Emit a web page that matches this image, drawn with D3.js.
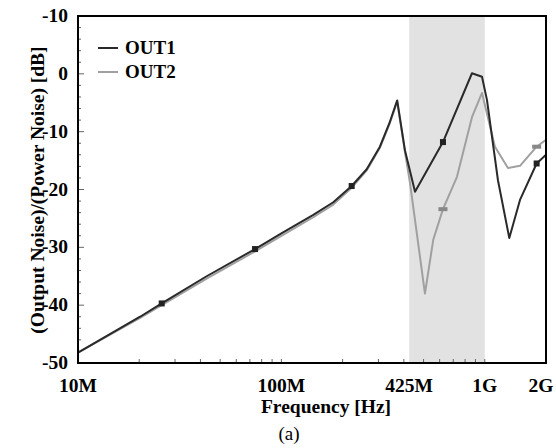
<!DOCTYPE html>
<html>
<head>
<meta charset="utf-8">
<script src="https://cdn.jsdelivr.net/npm/d3@7"></script>
<style>
  body { margin: 0; background: #fff; }
</style>
</head>
<body>
<svg id="chart" width="556" height="448" font-family="'Liberation Serif', 'Times New Roman', Times, 'DejaVu Serif', serif"></svg>
<script>
"use strict";

// frequencies in MHz, values in dB
const out1Freq = [10, 20.2, 25.8, 42.9, 74.2, 100, 143.5, 180, 221.6, 262.7, 305, 340, 371, 405, 454, 623, 865, 969, 1025, 1161, 1320, 1490, 1799, 2000];
const out1Db   = [-48.2, -42.0, -39.7, -35.0, -30.3, -27.6, -24.4, -22.2, -19.4, -16.5, -12.6, -8.5, -4.6, -13.2, -20.4, -11.8, 0.1, -0.5, -4.5, -18.4, -28.4, -21.8, -15.5, -14.0];
const out1Marks = [25.8, 74.2, 221.6, 623, 1799];

const out2Freq = [10, 20.2, 25.8, 42.9, 74.2, 100, 143.5, 180, 221.6, 262.7, 305, 340, 371, 405, 429, 508, 558, 623, 730, 865, 969, 1122, 1300, 1490, 1799, 2000];
const out2Db   = [-48.2, -42.2, -40.0, -35.4, -30.7, -28.0, -24.8, -22.6, -19.7, -16.7, -12.8, -8.7, -4.8, -13.5, -18.9, -38.0, -28.7, -23.4, -17.8, -7.5, -3.3, -12.6, -16.3, -15.9, -12.6, -11.4];
const out2Marks = [623, 1799];

const bandMHz = [425, 1000];

const xTickVals = [10, 100, 425, 1000, 2000];
const xTickLabels = ["10M", "100M", "425M", "1G", "2G"];
const yTickVals = [10, 0, -10, -20, -30, -40, -50];
const yTickLabels = ["-10", "0", "-10", "-20", "-30", "-40", "-50"];

const svg = d3.select("#chart");
const mLeft = 78, mRight = 546, mTop = 16, mBottom = 363;

const x = d3.scaleLog().domain([10, 2000]).range([mLeft, mRight]);
const y = d3.scaleLinear().domain([-50, 10]).range([mBottom, mTop]);

// shaded band
svg.append("rect")
   .attr("x", x(bandMHz[0]))
   .attr("y", mTop)
   .attr("width", x(bandMHz[1]) - x(bandMHz[0]))
   .attr("height", mBottom - mTop)
   .attr("fill", "#e2e2e2");

// minor ticks, inside the frame
const yMinor = d3.range(-50, 10.1, 2);
svg.append("g").selectAll("line")
   .data(yMinor)
   .enter().append("line")
   .attr("x1", mLeft)
   .attr("x2", d => mLeft + (d % 10 === 0 ? 6 : 3))
   .attr("y1", d => y(d)).attr("y2", d => y(d))
   .attr("stroke", "#666").attr("stroke-width", 1);

const xMinor = x.ticks().filter(d => d > 10 && d < 2000);
svg.append("g").selectAll("line")
   .data(xMinor)
   .enter().append("line")
   .attr("x1", d => x(d)).attr("x2", d => x(d))
   .attr("y1", mBottom).attr("y2", mBottom - 4)
   .attr("stroke", "#666").attr("stroke-width", 1);

// series
const line = d3.line()
               .x(d => x(d[0]))
               .y(d => y(d[1]));

const series = [
    {name: "OUT1", freq: out1Freq, db: out1Db, marks: out1Marks, color: "#2a2a2a"},
    {name: "OUT2", freq: out2Freq, db: out2Db, marks: out2Marks, color: "#a0a0a0"}
];

series.slice().reverse().forEach(function (s) {
    const pts = s.freq.map((f, i) => [f, s.db[i]]);
    svg.append("path")
       .attr("d", line(pts))
       .attr("fill", "none")
       .attr("stroke", s.color)
       .attr("stroke-width", 2)
       .attr("stroke-linejoin", "round");
});

series.forEach(function (s, k) {
    const w = k === 0 ? 6 : 9, h = k === 0 ? 6 : 4;
    svg.append("g").selectAll("rect")
       .data(s.marks)
       .enter().append("rect")
       .attr("x", f => x(f) - w / 2)
       .attr("y", f => y(s.db[s.freq.indexOf(f)]) - h / 2)
       .attr("width", w).attr("height", h)
       .attr("fill", k === 0 ? "#222" : "#888");
});

// frame
svg.append("rect")
   .attr("x", mLeft).attr("y", mTop)
   .attr("width", mRight - mLeft).attr("height", mBottom - mTop)
   .attr("fill", "none").attr("stroke", "#000").attr("stroke-width", 2);

// tick labels
svg.append("g").selectAll("text")
   .data(xTickVals)
   .enter().append("text")
   .attr("x", d => Math.min(x(d), 541))
   .attr("y", 392)
   .attr("text-anchor", "middle")
   .attr("font-size", 19.5).attr("font-weight", "bold")
   .text((d, i) => xTickLabels[i]);

svg.append("g").selectAll("text")
   .data(yTickVals)
   .enter().append("text")
   .attr("x", 68)
   .attr("y", d => y(d) + 6)
   .attr("text-anchor", "end")
   .attr("font-size", 19.5).attr("font-weight", "bold")
   .text((d, i) => yTickLabels[i]);

// titles
svg.append("text")
   .attr("x", 326).attr("y", 413)
   .attr("text-anchor", "middle")
   .attr("font-size", 19.5).attr("font-weight", "bold")
   .text("Frequency [Hz]");

svg.append("text")
   .attr("transform", "translate(44,190) rotate(-90)")
   .attr("text-anchor", "middle")
   .attr("font-size", 19.5).attr("font-weight", "bold")
   .text("(Output Noise)/(Power Noise) [dB]");

svg.append("text")
   .attr("x", 289).attr("y", 440)
   .attr("text-anchor", "middle")
   .attr("font-size", 19)
   .text("(a)");

// legend
series.forEach(function (s, i) {
    const ly = 48 + i * 24;
    svg.append("line")
       .attr("x1", 98).attr("x2", 118)
       .attr("y1", ly).attr("y2", ly)
       .attr("stroke", s.color).attr("stroke-width", 2);
    svg.append("text")
       .attr("x", 125).attr("y", ly + 6)
       .attr("font-size", 19).attr("font-weight", "bold")
       .text(s.name);
});
</script>
</body>
</html>
